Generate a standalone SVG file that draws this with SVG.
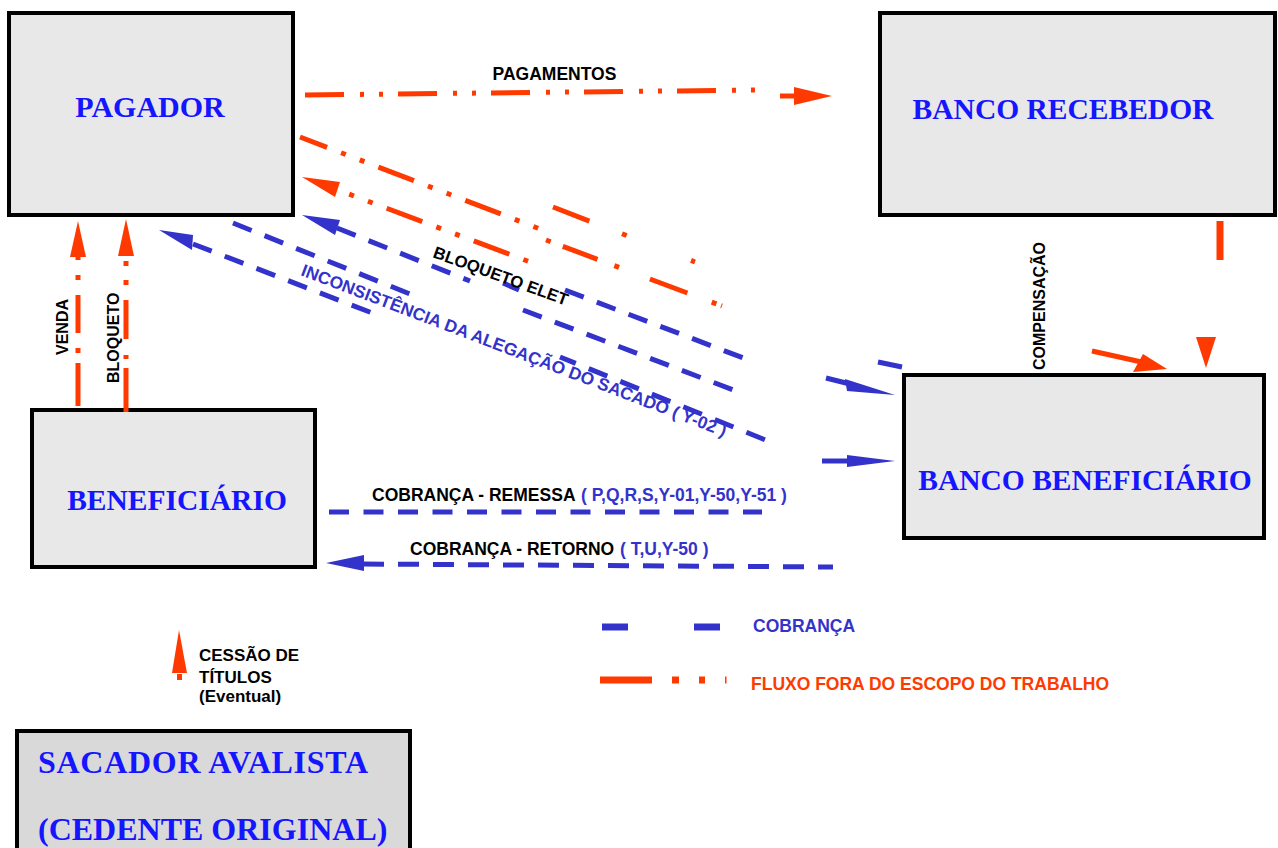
<svg xmlns="http://www.w3.org/2000/svg" width="1278" height="848" viewBox="0 0 1278 848">
<style>
.box{fill:#e8e8e8;stroke:#000;stroke-width:4}
.sac{fill:#d9d9d9;stroke:#000;stroke-width:4}
.ttl{font-family:"Liberation Serif","Times New Roman",serif;font-weight:bold;font-size:29.5px;fill:#1515ff}
.lbl{font-family:"Liberation Sans",Arial,sans-serif;font-weight:bold;font-size:17.5px;fill:#000}
.vl{font-family:"Liberation Sans",Arial,sans-serif;font-weight:bold;font-size:16px;fill:#000}
.bt{fill:#3333cc}
.ot{fill:#ff3a00}
.o{fill:none;stroke:#ff3a00;stroke-width:5;stroke-dasharray:38 15 5 15 5 15}
.os{fill:none;stroke:#ff3a00;stroke-width:5}
.b{fill:none;stroke:#3333cc;stroke-width:5;stroke-dasharray:20 14}
.bs{fill:none;stroke:#3333cc;stroke-width:5}
.oh{fill:#ff3a00}
.bh{fill:#3333cc}
</style>
<rect width="1278" height="848" fill="#fff"/>
<g id="pagador"><rect class="box" x="9" y="13" width="284" height="202"/><text class="ttl" x="150" y="117" text-anchor="middle" style="font-size:30px">PAGADOR</text></g>
<g id="banco-recebedor"><rect class="box" x="880" y="13" width="395" height="202"/><text class="ttl" x="1063" y="119" text-anchor="middle">BANCO RECEBEDOR</text></g>
<g id="banco-beneficiario"><rect class="box" x="904" y="375" width="360" height="163"/><text class="ttl" x="1085" y="490" text-anchor="middle">BANCO BENEFICIÁRIO</text></g>
<g id="beneficiario"><rect class="box" x="32" y="410" width="283" height="157"/><text class="ttl" x="177" y="510" text-anchor="middle">BENEFICIÁRIO</text></g>
<g id="sacador-avalista"><rect class="sac" x="17" y="731" width="393" height="130"/><text class="ttl" x="38" y="773" style="font-size:32px" textLength="330">SACADOR AVALISTA</text><text class="ttl" x="38" y="840" style="font-size:32px">(CEDENTE ORIGINAL)</text></g>
<g id="connectors">
<path class="o" d="M305,95 L757,90" style="stroke-dasharray:39 16 4 15 4 15"/>
<line class="os" x1="780" y1="96" x2="797" y2="96"/>
<polygon class="oh" points="832,96 794,87 794,105"/>
<text class="lbl" x="554.5" y="80" text-anchor="middle">PAGAMENTOS</text>
<path class="o" d="M300,137 L540,229" style="stroke-dashoffset:9"/>
<path class="o" d="M553,207 L695,262" style="stroke-dasharray:39 35 5 69 5 100"/>
<polygon class="oh" points="302,177 340,182 335,197"/>
<path class="o" d="M338,190 L530,262" style="stroke-dashoffset:41"/>
<path class="o" d="M546,240 L722,306" style="stroke-dasharray:5 13 37 18 5 33 40 26 5 5 5 50"/>
<polygon class="bh" points="302,215 340,220 335,235"/>
<path class="b" d="M337,228 L470,281"/>
<line class="bs" x1="503" y1="283" x2="519" y2="290"/>
<path class="b" d="M565,290 L746,359"/>
<text class="lbl" transform="translate(432,257) rotate(20)" style="font-size:16.8px">BLOQUETO ELET</text>
<path class="b" d="M233,223 L415,296"/>
<path class="b" d="M523,310 L736,391"/>
<polygon class="bh" points="159,230 193,235 192,250"/>
<path class="b" d="M193,244 L380,316"/>
<path class="b" d="M560,357 L768,441" style="stroke-dashoffset:3"/>
<text class="lbl bt" transform="translate(300,275) rotate(20.9)" style="font-size:17.4px">INCONSISTÊNCIA DA ALEGAÇÃO DO SACADO ( Y-02 )</text>
<line class="bs" x1="878" y1="362" x2="902" y2="367"/>
<line class="bs" x1="826" y1="378" x2="850" y2="384"/>
<polygon class="bh" points="895,395 845,379 847,391"/>
<line class="bs" x1="822" y1="461" x2="850" y2="461"/>
<polygon class="bh" points="895,461 847,455 847,467"/>
<path class="os" d="M78,406 L78,257" style="stroke-dasharray:43 10 5 15 38 15 5 15 3 100"/>
<polygon class="oh" points="78,221 70,257 86,257"/>
<path class="os" d="M126,412 L126,257" style="stroke-dasharray:44 9 4 16 39 15 5 14 5 30"/>
<polygon class="oh" points="126,219 118,256 134,256"/>
<text class="vl" transform="translate(68,355) rotate(-90)">VENDA</text>
<text class="vl" transform="translate(118.5,383) rotate(-90)">BLOQUETO</text>
<line class="os" x1="1220" y1="221" x2="1220" y2="260" style="stroke-width:7"/>
<polygon class="oh" points="1196,337 1216,337 1206,368"/>
<line class="os" x1="1092" y1="351" x2="1146" y2="363"/>
<polygon class="oh" points="1167,369 1143,354 1133,372"/>
<text class="vl" transform="translate(1045,370) rotate(-90)">COMPENSAÇÃO</text>
<path class="b" d="M329,512 L762,512" style="stroke-dasharray:20 14.5"/>
<text class="lbl" x="372" y="501">COBRANÇA - REMESSA</text>
<text class="lbl bt" x="581" y="501">( P,Q,R,S,Y-01,Y-50,Y-51 )</text>
<polygon class="bh" points="326,563 364,555 364,571"/>
<path class="b" d="M363,564 L833,567" style="stroke-dasharray:21 14"/>
<text class="lbl" x="410" y="555">COBRANÇA - RETORNO</text>
<text class="lbl bt" x="620" y="555">( T,U,Y-50 )</text>
</g>
<g id="legend">
<line x1="602" y1="627" x2="628" y2="627" stroke="#3333cc" stroke-width="7"/>
<line x1="694" y1="627" x2="720" y2="627" stroke="#3333cc" stroke-width="7"/>
<text class="lbl bt" x="753" y="632">COBRANÇA</text>
<line x1="600" y1="680" x2="652" y2="680" stroke="#ff3a00" stroke-width="7"/>
<line x1="672" y1="680" x2="679" y2="680" stroke="#ff3a00" stroke-width="7"/>
<line x1="699" y1="680" x2="705" y2="680" stroke="#ff3a00" stroke-width="7"/>
<line x1="725" y1="680" x2="726.5" y2="680" stroke="#ff3a00" stroke-width="7"/>
<text class="lbl ot" x="751" y="690">FLUXO FORA DO ESCOPO DO TRABALHO</text>
<polygon class="oh" points="179,630 172,673 187,673"/>
<rect class="oh" x="177" y="674" width="5" height="6"/>
<text class="lbl" x="199" y="661" style="font-size:17px">CESSÃO DE</text>
<text class="lbl" x="199" y="683" style="font-size:17px">TÍTULOS</text>
<text class="lbl" x="199" y="702" style="font-size:17px">(Eventual)</text>
</g>
</svg>
